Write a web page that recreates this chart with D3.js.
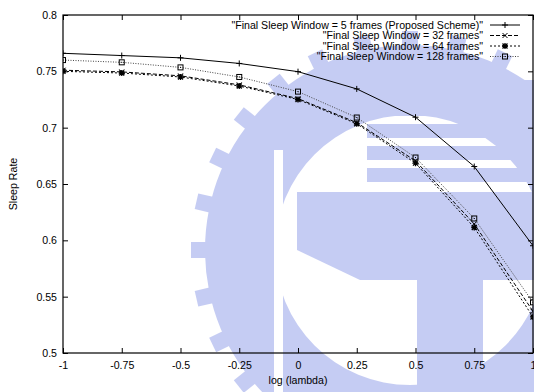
<!DOCTYPE html>
<html><head><meta charset="utf-8">
<script src="https://cdn.jsdelivr.net/npm/d3@7"></script>
<style>
body{margin:0;background:#fff}
text{font-family:"Liberation Sans",Arial,Helvetica,sans-serif;fill:#000}
</style>
</head><body>
<svg id="c" width="534" height="392"></svg>
<script>
// ---- data ----
const xValues = [-1, -0.75, -0.5, -0.25, 0, 0.25, 0.5, 0.75, 1];
const seriesNames = [
  "\"Final Sleep Window = 5 frames (Proposed Scheme)\"",
  "\"Final Sleep Window = 32 frames\"",
  "\"Final Sleep Window = 64 frames\"",
  "\"Final Sleep Window = 128 frames\""
];
const s5   = [0.766, 0.764, 0.762, 0.757, 0.7497, 0.7344, 0.7093, 0.6655, 0.5952];
const s32  = [0.751, 0.7495, 0.746, 0.738, 0.7258, 0.7045, 0.6705, 0.6145, 0.537];
const s64  = [0.750, 0.7485, 0.745, 0.737, 0.7250, 0.7035, 0.6685, 0.6114, 0.532];
const s128 = [0.760, 0.758, 0.7535, 0.745, 0.732, 0.709, 0.6735, 0.6194, 0.545];
const xTicks = [-1, -0.75, -0.5, -0.25, 0, 0.25, 0.5, 0.75, 1];
const xTickLabels = ["-1", "-0.75", "-0.5", "-0.25", "0", "0.25", "0.5", "0.75", "1"];
const yTicks = [0.5, 0.55, 0.6, 0.65, 0.7, 0.75, 0.8];
const yTickLabels = ["0.5", "0.55", "0.6", "0.65", "0.7", "0.75", "0.8"];
const xTitle = "log (lambda)";
const yTitle = "Sleep Rate";

// ---- layout ----
const W = 534, H = 392;
const L = 63, R = 533, T = 15, B = 353;
const FS = 10.6;
const svg = d3.select("#c");
const x = d3.scaleLinear().domain([-1, 1]).range([L, R]);
const y = d3.scaleLinear().domain([0.5, 0.8]).range([B, T]);

// ---- decorative watermark (background) ----
const wm = svg.append("g").attr("opacity", 0.62);
const wmCol = "#a3aeec";
const gc = [410, 250], rOut = 205, rIn = 135;
const ring = d3.arc().innerRadius(rIn).outerRadius(rOut).startAngle(0).endAngle(2 * Math.PI);
wm.append("path").attr("d", ring()).attr("transform", `translate(${gc})`).attr("fill", wmCol);
const nTeeth = 28;
for (let i = 0; i < nTeeth; i++) {
  const a = i / nTeeth * 360;
  wm.append("rect")
    .attr("x", -8).attr("y", -rOut - 14).attr("width", 16).attr("height", 16)
    .attr("transform", `translate(${gc}) rotate(${a})`)
    .attr("fill", wmCol);
}
for (let i = 0; i < 5; i++) {
  wm.append("rect").attr("x", 367).attr("y", 80 + i * 22).attr("width", 170).attr("height", 14).attr("fill", wmCol);
}
wm.append("path").attr("d", "M297,192 L540,192 L540,280 L360,280 L297,250 Z").attr("fill", wmCol);
wm.append("rect").attr("x", 417).attr("y", 280).attr("width", 66).attr("height", 120).attr("fill", wmCol);
svg.append("rect").attr("x", 274).attr("y", 150).attr("width", 9).attr("height", 250).attr("fill", "#fff");

// ---- axes ----
const fmtX = (d) => xTickLabels[xTicks.indexOf(d)];
const fmtY = (d) => yTickLabels[yTicks.findIndex(v => Math.abs(v - d) < 1e-9)];

const gx = svg.append("g").attr("transform", `translate(0,${B})`)
  .call(d3.axisBottom(x).tickValues(xTicks).tickFormat(fmtX).tickSizeInner(-5).tickSizeOuter(0).tickPadding(8));
const gy = svg.append("g").attr("transform", `translate(${L},0)`)
  .call(d3.axisLeft(y).tickValues(yTicks).tickFormat(fmtY).tickSizeInner(-5).tickSizeOuter(0).tickPadding(6));
const gxt = svg.append("g").attr("transform", `translate(0,${T})`)
  .call(d3.axisTop(x).tickValues(xTicks).tickFormat("").tickSizeInner(-5).tickSizeOuter(0));
const gyr = svg.append("g").attr("transform", `translate(${R},0)`)
  .call(d3.axisRight(y).tickValues(yTicks).tickFormat("").tickSizeInner(-5).tickSizeOuter(0));
[gx, gy, gxt, gyr].forEach(g => {
  g.select(".domain").remove();
  g.selectAll("line").attr("stroke", "#000");
  g.selectAll("text").attr("font-size", FS).attr("font-family", "Liberation Sans, Arial, sans-serif").attr("fill", "#000");
});

svg.append("rect").attr("x", L).attr("y", T).attr("width", R - L).attr("height", B - T)
  .attr("fill", "none").attr("stroke", "#000").attr("stroke-width", 1.2);

svg.append("text").attr("x", (L + R) / 2).attr("y", 384).attr("text-anchor", "middle")
  .attr("font-size", FS).text(xTitle);
svg.append("text").attr("transform", `translate(17,${(T + B) / 2}) rotate(-90)`).attr("text-anchor", "middle")
  .attr("font-size", FS).text(yTitle);

// ---- series ----
const series = [
  {name: seriesNames[0], vals: s5,   dash: null,    color: "#000", marker: "plus"},
  {name: seriesNames[1], vals: s32,  dash: "4,2",   color: "#000", marker: "cross"},
  {name: seriesNames[2], vals: s64,  dash: "2,2",   color: "#000", marker: "star"},
  {name: seriesNames[3], vals: s128, dash: "1,1.5", color: "#444", marker: "square"}
];

svg.append("clipPath").attr("id", "clip").append("rect")
  .attr("x", L).attr("y", T).attr("width", R - L).attr("height", B - T);

function marker(g, type, cx, cy) {
  const m = g.append("g").attr("transform", `translate(${cx},${cy})`);
  if (type === "plus") {
    m.append("path").attr("d", "M-3,0H3M0,-3V3").attr("stroke", "#000").attr("stroke-width", 1);
  } else if (type === "cross") {
    m.append("path").attr("d", "M-2.5,-2.5L2.5,2.5M-2.5,2.5L2.5,-2.5").attr("stroke", "#000").attr("stroke-width", 1);
  } else if (type === "star") {
    m.append("path").attr("d", "M-3,0H3M0,-3V3M-2.5,-2.5L2.5,2.5M-2.5,2.5L2.5,-2.5").attr("stroke", "#000").attr("stroke-width", 1.3);
  } else {
    m.append("rect").attr("x", -2.5).attr("y", -2.5).attr("width", 5).attr("height", 5)
      .attr("fill", "none").attr("stroke", "#000").attr("stroke-width", 1);
    m.append("rect").attr("x", -0.5).attr("y", -0.5).attr("width", 1).attr("height", 1).attr("fill", "#000");
  }
}

const line = d3.line().x((d, i) => x(xValues[i])).y(d => y(d));
const plotG = svg.append("g").attr("clip-path", "url(#clip)");
series.forEach(s => {
  plotG.append("path").datum(s.vals).attr("d", line).attr("fill", "none")
    .attr("stroke", s.color).attr("stroke-width", 1)
    .attr("stroke-dasharray", s.dash);
  s.vals.forEach((v, i) => marker(plotG, s.marker, x(xValues[i]), y(v)));
});

// ---- legend ----
const legY = [25, 35.5, 46, 56.5];
series.forEach((s, i) => {
  svg.append("text").attr("x", 483).attr("y", legY[i]).attr("dy", "0.35em")
    .attr("text-anchor", "end").attr("font-size", FS).text(s.name);
  svg.append("line").attr("x1", 490).attr("x2", 520).attr("y1", legY[i]).attr("y2", legY[i])
    .attr("stroke", s.color).attr("stroke-width", 1).attr("stroke-dasharray", s.dash);
  marker(svg, s.marker, 505, legY[i]);
});
</script>
</body></html>
